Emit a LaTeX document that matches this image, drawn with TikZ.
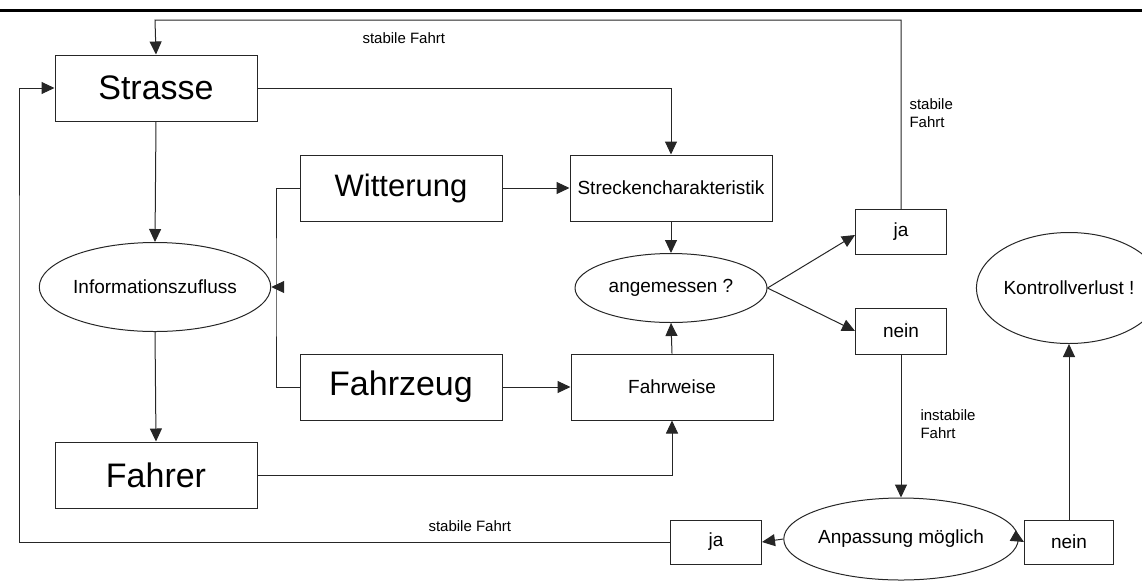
\documentclass[tikz,border=0pt]{standalone}
\usepackage{fontspec}
\setmainfont{Liberation Sans}
\usetikzlibrary{arrows.meta,shapes.geometric,calc}
\begin{document}
\begin{tikzpicture}[x=1pt,y=-1pt,
  line width=1pt, draw=black!85,
  every node/.style={inner sep=0pt, text=black},
  mid/.style={font=\fontsize{19}{22}\selectfont},
  big/.style={font=\fontsize{34}{40}\selectfont},
  small/.style={font=\fontsize{15}{18}\selectfont, align=left},
  box/.style={draw, rectangle, minimum width=202pt, minimum height=66pt},
  tag/.style={draw, rectangle, minimum width=91pt, minimum height=45pt, mid},
  oval/.style={draw, ellipse, mid},
  arr/.style={-{Triangle[length=13pt,width=12pt]}}
]
\useasboundingbox (0,0) rectangle (1142,582);

% header rule
\draw[line width=3pt, black] (0,10) -- (1142,10);

% main boxes
\node[box, big] (strasse) at (156,88) {Strasse};
\node[box, font=\fontsize{31}{36}\selectfont] (witterung) at (401,188) {Witterung};
\node[box, big] (fahrzeug) at (401,387) {Fahrzeug};
\node[box, big] (fahrer) at (156,475) {Fahrer};
\node[box, mid] (strecken) at (671,188) {Streckencharakteristik};
\node[box, mid] (fahrweise) at (672,387) {Fahrweise};

% decisions and outcomes
\node[oval, minimum width=190pt, minimum height=89pt] (info) at (155,287) {Informationszufluss};
\node[oval, minimum width=192pt, minimum height=69pt] (angem) at (671,288) {angemessen ?};
\node[tag] (jaA) at (901,232) {ja};
\node[tag, minimum height=46pt] (neinA) at (901,331) {nein};
\node[oval, minimum width=191pt, minimum height=82pt] (anpass) at (901,539) {Anpassung möglich};
\node[tag, minimum height=44pt] (jaB) at (716,542) {ja};
\node[tag, minimum width=89pt, minimum height=44pt] (neinB) at (1069,542) {nein};
\node[oval, minimum width=143pt, minimum height=111pt] (kontroll) at (1069,288) {Kontrollverlust !};

% helper points for routed lines
\coordinate (fbTop) at (155,20);
\coordinate (fbLeft) at (19,300);
\coordinate (brk) at (276,287);

% connectors
\draw[arr] (strasse.south) -- (info.north);
\draw[arr] (info.south) -- (fahrer.north);
\draw[arr] (strasse.east) -| (strecken.north);
\draw[arr] (witterung.east) -- (strecken.west);
\draw[arr] (fahrzeug.east) -- (fahrweise.west);
\draw (witterung.west) -| (brk) |- (fahrzeug.west);
\draw[arr] (brk) -- (info.east);
\draw[arr] (fahrer.east) -| (fahrweise.south);
\draw[arr] (strecken.south) -- (angem.north);
\draw[arr] (fahrweise.north) -- (angem.south);
\draw[arr] (angem.east) -- ($(jaA.west)+(0,3)$);
\draw[arr] (angem.east) -- (neinA.west);
\draw[arr] (jaA.north) |- (fbTop) -- (strasse.north);
\draw[arr] (neinA.south) -- (anpass.north);
\draw[arr] (anpass.west) -- (jaB.east);
\draw[arr] (anpass.east) -- (neinB.west);
\draw[arr] (neinB.north) -- (kontroll.south);
\draw[arr] (jaB.west) -| (fbLeft) |- (strasse.west);

% labels
\node[small, anchor=west] (lblTop) at (362,38) {stabile Fahrt};
\node[small, anchor=west] (lblRight) at (909,113) {stabile\\Fahrt};
\node[small, anchor=west] (lblInst) at (920,424) {instabile\\Fahrt};
\node[small, anchor=west] (lblBottom) at (428,526) {stabile Fahrt};
\end{tikzpicture}
\end{document}
